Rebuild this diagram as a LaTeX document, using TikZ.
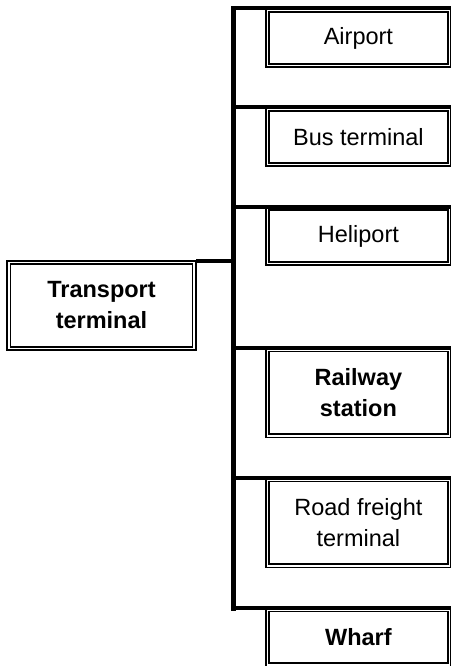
\documentclass[tikz,border=0pt]{standalone}
\usepackage{fontspec}
\setmainfont{Liberation Sans}
\begin{document}
\begin{tikzpicture}[
        x=1pt, y=-1pt,
        every node/.style={draw, double, double distance=1.8pt, line width=1.7pt, inner sep=0pt, outer sep=2pt, align=center, font=\fontsize{23.5}{31}\selectfont},
        bold/.style={font=\fontsize{23.5}{31}\selectfont\bfseries},
        leaf/.style={minimum width=182pt, minimum height=55pt},
        tall/.style={minimum width=182pt, minimum height=86pt},
        trunk/.style={line width=5pt, line cap=rect},
        branch/.style={line width=4pt},
    ]
    \useasboundingbox (0,0) rectangle (450,666);
    \node[bold, minimum width=185.5pt, minimum height=86pt](transport) at (101.5,305.5){Transport\\terminal};
    \node[leaf](airport) at (358.4,38){Airport};
    \node[leaf](bus) at (358.4,137){Bus terminal};
    \node[leaf](heliport) at (358.4,236){Heliport};
    \node[tall, bold](railway) at (358.4,392.6){Railway\\station};
    \node[tall](road) at (358.4,522.6){Road freight\\terminal};
    \node[leaf, bold](wharf) at (358.4,637.3){Wharf};
    % trunk and branches
    \coordinate (ttop) at (233,8.5);
    \coordinate (tbot) at (233,608.5);
    \draw[trunk] (ttop) -- (tbot);
    \draw[branch] (transport.north east) -- (transport.north east -| ttop);
    \foreach \n in {airport,bus,heliport,railway,road,wharf}
        \draw[branch] (\n.north west -| ttop) -- (\n.north east);
\end{tikzpicture}
\end{document}
